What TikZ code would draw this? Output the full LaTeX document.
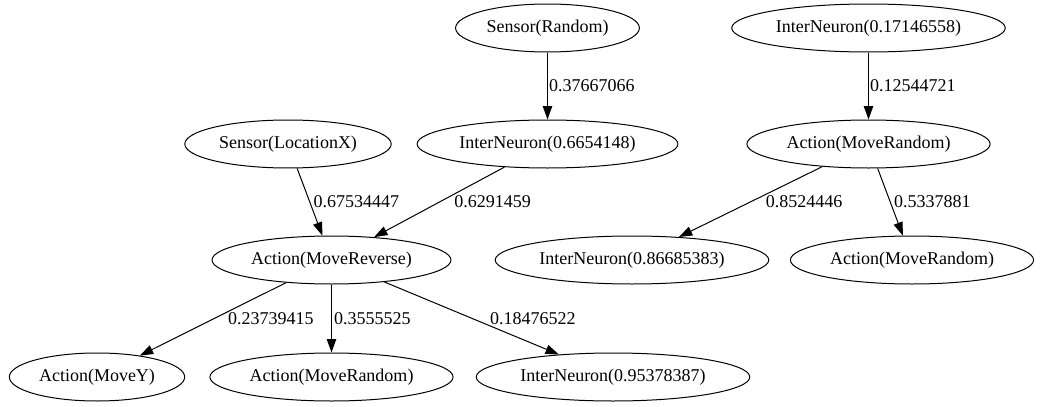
\documentclass[tikz,border=0pt]{standalone}
\usepackage{fontspec}
\setmainfont{Liberation Serif}
\usetikzlibrary{arrows.meta,shapes.geometric}
\tikzset{
  nn/.style={draw,ellipse,line width=0.75pt,inner xsep=3pt,inner ysep=0pt,minimum height=36pt,font=\fontsize{13.5}{16}\selectfont},
  wt/.style={anchor=west,inner sep=0pt,font=\fontsize{13.5}{16}\selectfont},
  syn/.style={line width=0.75pt,-{Triangle[length=10pt,width=7pt]}}
}
\begin{document}
\begin{tikzpicture}[x=0.75pt,y=-0.75pt]
\useasboundingbox (0,0) rectangle (1040,407);
% neurons
\foreach \n/\x/\y/\t in {s1/547.5/28/{Sensor(Random)},i1/868.5/28/{InterNeuron(0.17146558)},
  sx/288/144/{Sensor(LocationX)},i2/547.5/144/{InterNeuron(0.6654148)},ar1/868.5/144/{Action(MoveRandom)},
  rev/331.5/260/{Action(MoveReverse)},i3/632/260/{InterNeuron(0.86685383)},ar2/912/260/{Action(MoveRandom)},
  my/97/377/{Action(MoveY)},ar3/331.5/377/{Action(MoveRandom)},i4/613/377/{InterNeuron(0.95378387)}}
  \node[nn] (\n) at (\x,\y) {\t};
% weighted links
\foreach \a/\b/\w/\d in {s1/i2/0.37667066/0.75,i1/ar1/0.12544721/0.75,sx/rev/0.67534447/2.6,
  i2/rev/0.6291459/11,ar1/i3/0.8524446/11,ar1/ar2/0.5337881/2.6,
  rev/my/0.23739415/11,rev/ar3/0.3555525/1.5,rev/i4/0.18476522/13.5}
  \draw[syn] (\a) -- (\b) node[wt,midway,xshift=\d pt] {\w};
\end{tikzpicture}
\end{document}
